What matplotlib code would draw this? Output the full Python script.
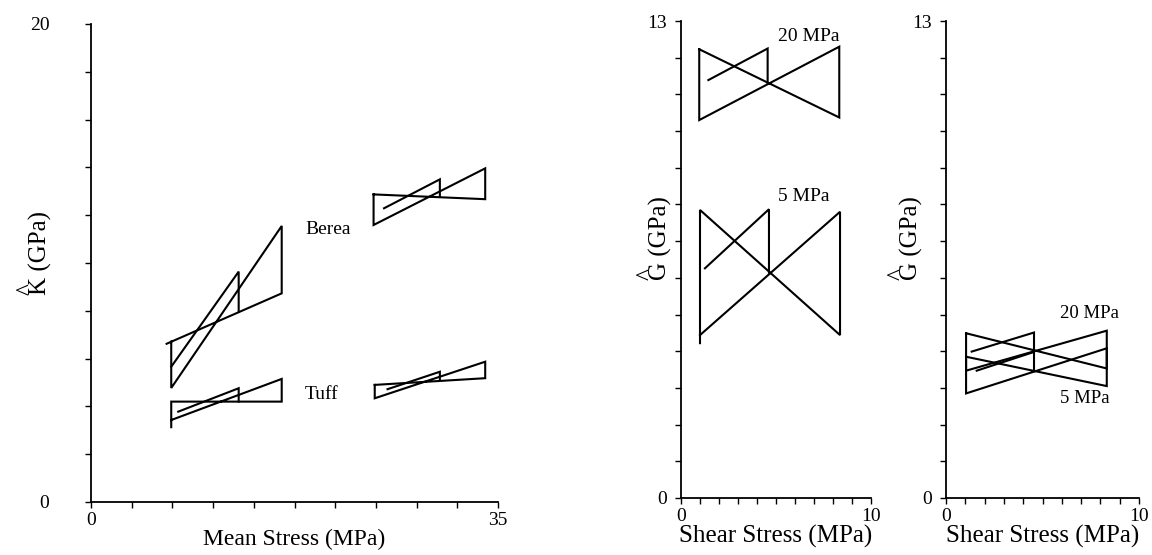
import matplotlib
matplotlib.use("Agg")
import matplotlib.pyplot as plt
import numpy as np

plt.rcParams['font.family'] = ['Liberation Serif', 'DejaVu Serif']

# ---------------- data ----------------
# Left panel: K-hat vs mean stress (MPa)
berea_a_x = [6.5, 16.4, 16.4, 6.9, 6.9]
berea_a_y = [6.62, 8.73, 11.55, 4.77, 6.71]
berea_b_x = [6.9, 12.7, 12.7]
berea_b_y = [5.66, 9.64, 7.95]
berea_c_x = [24.3, 33.9, 33.9, 24.3, 24.3]
berea_c_y = [12.87, 12.67, 13.96, 11.59, 12.87]
berea_d_x = [25.2, 30.0, 30.0]
berea_d_y = [12.29, 13.5, 12.77]

tuff_a_x = [6.9, 6.9, 16.4, 16.4, 6.9]
tuff_a_y = [3.13, 4.2, 4.2, 5.15, 3.43]
tuff_b_x = [7.5, 12.7, 12.7]
tuff_b_y = [3.78, 4.76, 4.2]
tuff_c_x = [24.4, 33.9, 33.9, 24.4, 24.4]
tuff_c_y = [4.9, 5.18, 5.87, 4.34, 4.9]
tuff_d_x = [25.5, 30.0, 30.0]
tuff_d_y = [4.72, 5.45, 5.1]

# Middle panel: G-hat vs shear stress (MPa)
mid20_a_x = [0.96, 8.33, 8.33, 0.96, 0.96]
mid20_a_y = [12.23, 10.37, 12.3, 10.3, 12.23]
mid20_b_x = [1.44, 4.56, 4.56]
mid20_b_y = [11.39, 12.25, 11.3]
mid5_a_x = [1.0, 1.0, 8.37, 8.37, 1.0]
mid5_a_y = [4.22, 7.85, 4.44, 7.8, 4.44]
mid5_b_x = [1.26, 4.63, 4.63]
mid5_b_y = [6.26, 7.87, 6.14]

# Right panel: G-hat vs shear stress (MPa)
r20_a_x = [1.04, 8.33, 8.33, 1.04, 1.04]
r20_a_y = [4.49, 3.53, 4.56, 3.47, 4.49]
r20_b_x = [1.33, 4.56, 4.56]
r20_b_y = [3.99, 4.51, 4.01]
r5_a_x = [1.04, 8.33, 8.33, 1.04, 1.04]
r5_a_y = [3.85, 3.05, 4.08, 2.85, 3.85]
r5_b_x = [1.59, 4.56, 4.56]
r5_b_y = [3.47, 3.98, 3.46]

# ---------------- figure ----------------
W, H = 1152, 555
fig = plt.figure(figsize=(W / 100, H / 100), dpi=100)

def px_axes(x0, x1, ytop, ybot):
    return fig.add_axes([x0 / W, (H - ybot) / H, (x1 - x0) / W, (ybot - ytop) / H])

axL = px_axes(91, 498, 24, 502)
axM = px_axes(681, 871, 21, 498)
axR = px_axes(946, 1139, 21, 498)

lw = 1.5
kw = dict(color='black', lw=lw, solid_joinstyle='miter')

for xs, ys in [(berea_a_x, berea_a_y), (berea_b_x, berea_b_y),
               (berea_c_x, berea_c_y), (berea_d_x, berea_d_y),
               (tuff_a_x, tuff_a_y), (tuff_b_x, tuff_b_y),
               (tuff_c_x, tuff_c_y), (tuff_d_x, tuff_d_y)]:
    axL.plot(xs, ys, **kw)

for xs, ys in [(mid20_a_x, mid20_a_y), (mid20_b_x, mid20_b_y),
               (mid5_a_x, mid5_a_y), (mid5_b_x, mid5_b_y)]:
    axM.plot(xs, ys, **kw)

for xs, ys in [(r20_a_x, r20_a_y), (r20_b_x, r20_b_y),
               (r5_a_x, r5_a_y), (r5_b_x, r5_b_y)]:
    axR.plot(xs, ys, **kw)

tfs = 14
axL.text(18.4, 11.4, 'Berea', fontsize=tfs, va='center', ha='left')
axL.text(18.4, 4.5, 'Tuff', fontsize=tfs, va='center', ha='left')
axM.text(5.1, 12.59, '20 MPa', fontsize=tfs, va='center', ha='left')
axM.text(5.1, 8.23, '5 MPa', fontsize=tfs, va='center', ha='left')
axR.text(5.9, 5.04, '20 MPa', fontsize=13.5, va='center', ha='left')
axR.text(5.9, 2.72, '5 MPa', fontsize=13.5, va='center', ha='left')

def style(ax, xmax, xstep, ymax, ystep, xlabel, ylabel, ypad, xlfs, ylx, yly):
    ax.set_xlim(0, xmax)
    ax.set_ylim(0, ymax)
    for s in ['top', 'right']:
        ax.spines[s].set_visible(False)
    for s in ['left', 'bottom']:
        ax.spines[s].set_linewidth(1.3)
    xt = np.arange(0, xmax + 1e-9, xstep)
    yt = np.arange(0, ymax + 1e-9, ystep)
    ax.set_xticks(xt)
    ax.set_xticklabels(['0'] + [''] * (len(xt) - 2) + [f'{xmax:g}'])
    ax.set_yticks(yt)
    ax.set_yticklabels(['0'] + [''] * (len(yt) - 2) + [f'{ymax:g}'])
    ax.tick_params(axis='both', direction='out', length=4, width=1.0, labelsize=14)
    ax.tick_params(axis='x', pad=3)
    ax.tick_params(axis='y', pad=ypad)
    ax.set_xlabel(xlabel, fontsize=xlfs, labelpad=0)
    ax.set_ylabel(ylabel, fontsize=18, multialignment='left', linespacing=0.45)
    ax.yaxis.set_label_coords(ylx, yly)

style(axL, 35, 3.5, 20, 2, 'Mean Stress (MPa)', '^\nK (GPa)', 26, 17, -0.095, 0.52)
style(axM, 10, 1, 13, 1, 'Shear Stress (MPa)', '^\nG (GPa)', 6, 18, -0.048, 0.545)
style(axR, 10, 1, 13, 1, 'Shear Stress (MPa)', '^\nG (GPa)', 6, 18, -0.119, 0.545)

fig.savefig('out.png', dpi=100)
